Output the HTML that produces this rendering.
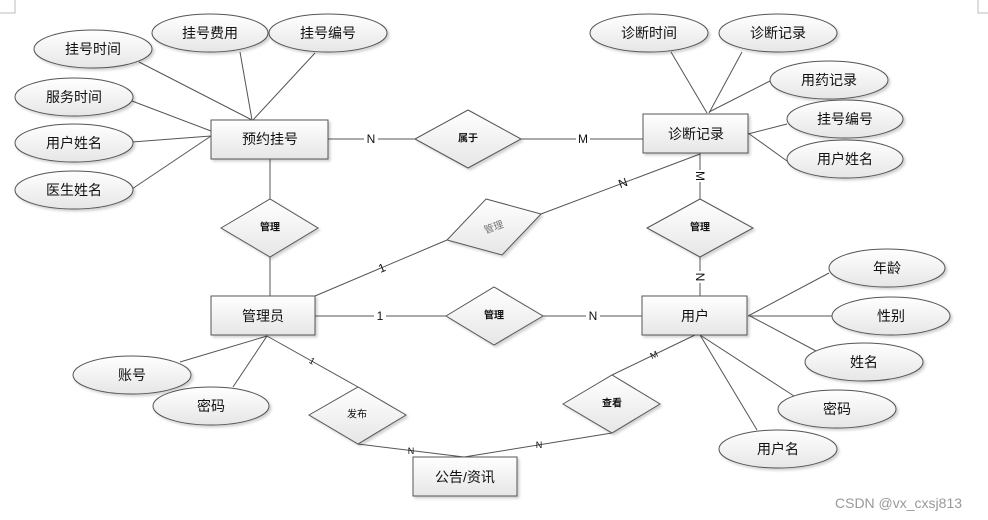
<!DOCTYPE html>
<html><head><meta charset="utf-8"><style>
html,body{margin:0;padding:0;background:#fff;}
svg{display:block;}
text{font-family:"Liberation Sans","Noto Sans CJK SC",sans-serif;fill:#111;}
.t{font-size:14px;text-anchor:middle;dominant-baseline:central;}
.r{font-size:10px;text-anchor:middle;dominant-baseline:central;font-weight:bold;}
.l{font-size:12px;text-anchor:middle;dominant-baseline:central;}
.s{font-size:9px;text-anchor:middle;dominant-baseline:central;}
</style></head><body>
<svg width="988" height="520" viewBox="0 0 988 520" xmlns="http://www.w3.org/2000/svg">
<defs>
<linearGradient id="g" x1="0" y1="0" x2="0" y2="1"><stop offset="0" stop-color="#ffffff"/><stop offset="1" stop-color="#e6e6e6"/></linearGradient>
<filter id="sh" x="-20%" y="-20%" width="150%" height="150%"><feDropShadow dx="2" dy="2" stdDeviation="1.2" flood-color="#000" flood-opacity="0.18"/></filter>
</defs>
<path d="M0 13 H15 V0" fill="none" stroke="#bbb"/>
<path d="M978 0 V13 H988" fill="none" stroke="#bbb"/>
<g stroke="#555" stroke-width="1" fill="none">
<line x1="139" y1="62" x2="252" y2="120"/>
<line x1="240" y1="52" x2="252" y2="120"/>
<line x1="315" y1="53" x2="253" y2="120"/>
<line x1="132" y1="101" x2="211" y2="131"/>
<line x1="132" y1="142" x2="211" y2="136"/>
<line x1="132" y1="189" x2="211" y2="136"/>
<line x1="328" y1="139" x2="415" y2="139"/>
<line x1="521" y1="139" x2="643" y2="139"/>
<line x1="270" y1="159" x2="270" y2="199"/>
<line x1="270" y1="257" x2="270" y2="296"/>
<line x1="671" y1="52" x2="707" y2="113"/>
<line x1="742" y1="52" x2="709" y2="113"/>
<line x1="770" y1="81" x2="709" y2="112"/>
<line x1="787" y1="124" x2="748" y2="134"/>
<line x1="787" y1="161" x2="748" y2="133"/>
<line x1="700" y1="153" x2="700" y2="199"/>
<line x1="700" y1="257" x2="700" y2="296"/>
<line x1="700" y1="154" x2="541" y2="214"/>
<line x1="447" y1="240" x2="315" y2="296"/>
<line x1="315" y1="316" x2="446" y2="316"/>
<line x1="543" y1="316" x2="642" y2="316"/>
<line x1="829" y1="273" x2="748" y2="316"/>
<line x1="832" y1="316" x2="748" y2="316"/>
<line x1="816" y1="351" x2="750" y2="316"/>
<line x1="794" y1="396" x2="700" y2="335"/>
<line x1="757" y1="430" x2="700" y2="335"/>
<line x1="695" y1="335" x2="612" y2="375"/>
<line x1="612" y1="433" x2="464" y2="457"/>
<line x1="358" y1="444" x2="464" y2="457"/>
<line x1="267" y1="336" x2="358" y2="387"/>
<line x1="180" y1="362" x2="267" y2="336"/>
<line x1="233" y1="387" x2="267" y2="336"/>
</g>
<g fill="url(#g)" stroke="#555" stroke-width="1" filter="url(#sh)">
<rect x="211" y="120" width="117" height="39"/>
<rect x="643" y="114" width="105" height="39"/>
<rect x="211" y="296" width="104" height="39"/>
<rect x="642" y="296" width="105" height="39"/>
<rect x="413" y="457" width="104" height="39"/>
<ellipse cx="93" cy="49" rx="59" ry="19"/>
<ellipse cx="210" cy="33" rx="58" ry="19"/>
<ellipse cx="328" cy="33" rx="59" ry="19"/>
<ellipse cx="74" cy="97" rx="59" ry="19"/>
<ellipse cx="74" cy="143" rx="59" ry="19"/>
<ellipse cx="74" cy="190" rx="59" ry="19"/>
<ellipse cx="649" cy="33" rx="59" ry="19"/>
<ellipse cx="778" cy="33" rx="59" ry="19"/>
<ellipse cx="829" cy="80" rx="59" ry="19"/>
<ellipse cx="845" cy="119" rx="58" ry="19"/>
<ellipse cx="845" cy="159" rx="58" ry="19"/>
<ellipse cx="887" cy="268" rx="58" ry="19"/>
<ellipse cx="891" cy="316" rx="59" ry="19"/>
<ellipse cx="864" cy="362" rx="59" ry="19"/>
<ellipse cx="837" cy="409" rx="59" ry="19"/>
<ellipse cx="778" cy="449" rx="59" ry="19"/>
<ellipse cx="132" cy="375" rx="59" ry="19"/>
<ellipse cx="211" cy="406" rx="58" ry="19"/>
<polygon points="415,139 468,110 521,139 468,168"/>
<polygon points="221,228 270,199 318,228 270,257"/>
<polygon points="486,199 541,214 502,255 447,240"/>
<polygon points="647,228 700,199 753,228 700,257"/>
<polygon points="446,316 494,287 543,316 494,345"/>
<polygon points="309,415 358,387 406,415 358,444"/>
<polygon points="563,404 612,375 660,404 612,433"/>
</g>
<text class="t" x="93" y="49">挂号时间</text>
<text class="t" x="210" y="33">挂号费用</text>
<text class="t" x="328" y="33">挂号编号</text>
<text class="t" x="74" y="97">服务时间</text>
<text class="t" x="74" y="143">用户姓名</text>
<text class="t" x="74" y="190">医生姓名</text>
<text class="t" x="649" y="33">诊断时间</text>
<text class="t" x="778" y="33">诊断记录</text>
<text class="t" x="829" y="80">用药记录</text>
<text class="t" x="845" y="119">挂号编号</text>
<text class="t" x="845" y="159">用户姓名</text>
<text class="t" x="887" y="268">年龄</text>
<text class="t" x="891" y="316">性别</text>
<text class="t" x="864" y="362">姓名</text>
<text class="t" x="837" y="409">密码</text>
<text class="t" x="778" y="449">用户名</text>
<text class="t" x="132" y="375">账号</text>
<text class="t" x="211" y="406">密码</text>
<text class="t" x="270" y="139">预约挂号</text>
<text class="t" x="696" y="134">诊断记录</text>
<text class="t" x="263" y="316">管理员</text>
<text class="t" x="695" y="316">用户</text>
<text class="t" x="465" y="477">公告/资讯</text>
<text class="r" x="468" y="139">属于</text>
<text class="r" x="270" y="228">管理</text>
<text class="r" x="494" y="228" transform="rotate(-20 494 228)" style="fill:#777;font-weight:normal">管理</text>
<text class="r" x="700" y="228">管理</text>
<text class="r" x="494" y="316">管理</text>
<text class="r" x="357" y="415" style="font-weight:normal">发布</text>
<text class="r" x="612" y="404">查看</text>
<g>
<rect x="364" y="132" width="14" height="14" fill="#fff"/><text class="l" x="371" y="139">N</text>
<rect x="576" y="132" width="14" height="14" fill="#fff"/><text class="l" x="583" y="139">M</text>
<rect x="693" y="170" width="14" height="12" fill="#fff"/><text class="l" x="700" y="176" transform="rotate(90 700 176)">M</text>
<rect x="693" y="271" width="14" height="12" fill="#fff"/><text class="l" x="700" y="277" transform="rotate(90 700 277)">N</text>
<text class="l" x="623" y="183" transform="rotate(-20 623 183)">N</text>
<text class="l" x="382" y="268" transform="rotate(-22 382 268)">1</text>
<rect x="374" y="309" width="12" height="14" fill="#fff"/><text class="l" x="380" y="316">1</text>
<rect x="586" y="309" width="14" height="14" fill="#fff"/><text class="l" x="593" y="316">N</text>
<text class="s" x="654" y="355" transform="rotate(-25 654 355)">M</text>
<text class="s" x="411" y="451">N</text>
<text class="s" x="539" y="445">N</text>
<text class="s" x="312" y="361" transform="rotate(30 312 361)">1</text>
</g>
<text x="835" y="508" style="font-size:14px;fill:#999">CSDN @vx_cxsj813</text>
</svg>
</body></html>
